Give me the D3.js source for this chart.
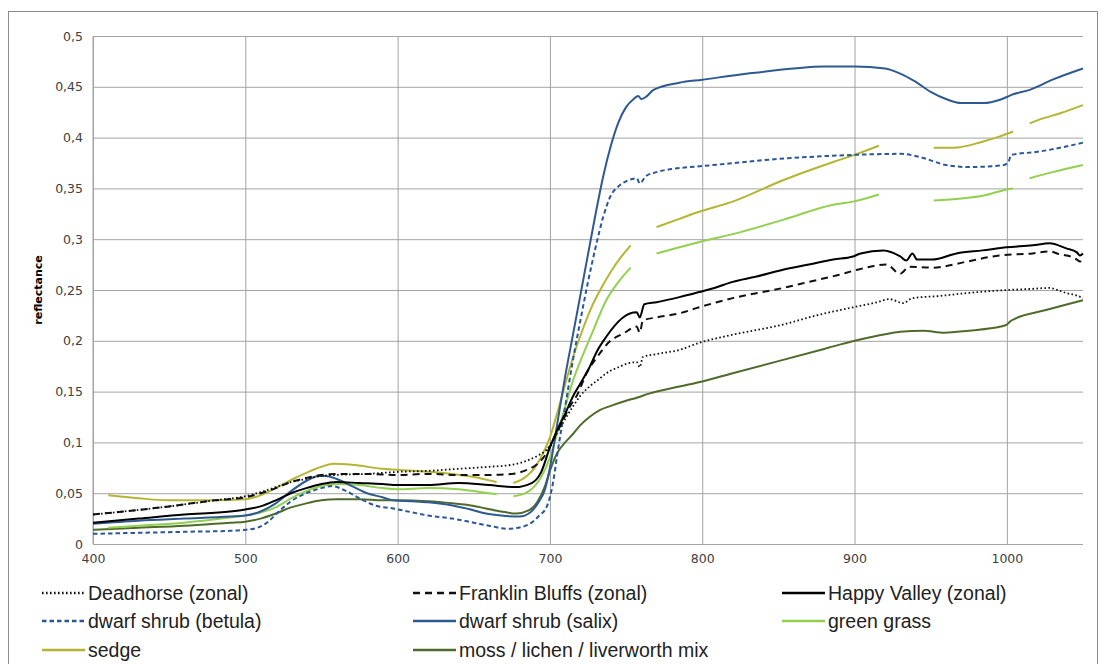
<!DOCTYPE html>
<html>
<head>
<meta charset="utf-8">
<script src="https://cdn.jsdelivr.net/npm/d3@7"></script>
<style>
  body { margin: 0; background: #fff; }
  svg { display: block; }
  .axis text { font-family: "DejaVu Sans", sans-serif; font-size: 12.5px; fill: #404040; }
  .axis .domain { display: none; }
  .axis line { stroke: #a3a3a3; }
  .legend text { font-family: "Liberation Sans", sans-serif; font-size: 19.5px; fill: #222; }
</style>
</head>
<body>
<script>
// series names (legend order)
const seriesNames = ["Deadhorse (zonal)", "Franklin Bluffs (zonal)", "Happy Valley (zonal)",
    "dwarf shrub (betula)", "dwarf shrub (salix)", "green grass",
    "sedge", "moss / lichen / liverworth mix"];

// [wavelength nm, reflectance]; null = gap in the record
const deadhorse = [[400,.029],[420,.032],[450,.037],[480,.043],[500,.047],[510,.051],[520,.056],[530,.061],[540,.064],[550,.067],[560,.068],[580,.069],[600,.071],[620,.072],[640,.074],[660,.076],[675,.078],[685,.082],[692,.087],[698,.093],[703,.105],[708,.118],[715,.135],[720,.146],[726,.155],[732,.162],[737,.168],[745,.174],[752,.178],[757,.179],[759,.174],[761,.184],[770,.187],[785,.191],[798,.198],[820,.206],[853,.216],[875,.225],[899,.233],[915,.238],[923,.241],[932,.237],[938,.242],[955,.244],[974,.247],[1000,.25],[1015,.251],[1028,.252],[1035,.249],[1039,.247],[1045,.245],[1050,.242]];
const franklinBluffs = [[400,.029],[420,.032],[450,.037],[480,.043],[500,.046],[510,.05],[520,.055],[530,.061],[540,.065],[550,.068],[560,.069],[580,.069],[600,.068],[620,.069],[640,.068],[660,.068],[675,.069],[685,.073],[692,.079],[698,.09],[703,.105],[708,.12],[713,.135],[718,.147],[724,.168],[731,.184],[739,.199],[748,.207],[757,.214],[759,.208],[761,.22],[770,.223],[785,.227],[798,.233],[820,.242],[853,.252],[870,.258],[890,.265],[902,.27],[921,.275],[930,.266],[936,.273],[951,.272],[974,.278],[995,.284],[1017,.286],[1028,.288],[1035,.285],[1039,.284],[1045,.281],[1048,.278],[1050,.282]];
const happyValley = [[400,.021],[430,.025],[460,.029],[490,.032],[500,.034],[510,.037],[520,.043],[530,.05],[540,.055],[550,.059],[560,.061],[575,.06],[590,.059],[600,.058],[620,.058],[640,.06],[660,.058],[677,.056],[688,.06],[694,.07],[700,.095],[705,.113],[710,.128],[715,.145],[720,.158],[726,.174],[731,.19],[737,.204],[742,.214],[748,.223],[757,.228],[759,.223],[762,.236],[770,.238],[785,.243],[798,.248],[808,.252],[820,.258],[835,.263],[853,.27],[870,.275],[886,.28],[899,.283],[904,.286],[919,.289],[930,.283],[934,.279],[938,.286],[941,.28],[951,.28],[967,.286],[984,.289],[1000,.292],[1017,.294],[1028,.296],[1039,.291],[1046,.287],[1048,.284],[1050,.286]];
const betula = [[400,.01],[430,.011],[460,.012],[490,.013],[500,.014],[508,.016],[515,.022],[522,.032],[530,.042],[540,.05],[550,.055],[557,.057],[565,.053],[575,.045],[585,.038],[597,.035],[610,.031],[620,.028],[636,.025],[650,.021],[660,.018],[672,.015],[682,.017],[688,.021],[693,.028],[698,.037],[702,.06],[705,.09],[710,.135],[715,.18],[720,.22],[725,.258],[730,.292],[735,.322],[740,.343],[745,.352],[750,.357],[757,.36],[759,.355],[763,.362],[770,.366],[785,.37],[800,.372],[850,.379],[900,.383],[930,.384],[945,.38],[960,.373],[975,.371],[998,.373],[1001,.376],[1003,.383],[1020,.386],[1035,.39],[1050,.395]];
const salix = [[400,.02],[430,.023],[460,.025],[490,.027],[500,.028],[510,.032],[520,.04],[530,.052],[540,.062],[548,.067],[553,.067],[560,.064],[570,.057],[580,.05],[590,.046],[597,.043],[610,.042],[620,.041],[636,.038],[648,.034],[658,.03],[668,.028],[680,.027],[687,.031],[692,.04],[697,.055],[700,.075],[705,.12],[710,.165],[715,.205],[720,.245],[725,.285],[730,.325],[735,.362],[740,.392],[745,.415],[750,.43],[755,.438],[758,.441],[760,.438],[763,.44],[768,.447],[785,.454],[800,.457],[830,.463],[860,.468],[880,.47],[900,.47],[920,.468],[930,.463],[940,.455],[950,.445],[960,.438],[970,.434],[985,.434],[995,.437],[1000,.44],[1003,.442],[1015,.447],[1030,.457],[1050,.468]];
const greenGrass = [[410,.016],[430,.018],[460,.021],[490,.026],[500,.028],[510,.031],[520,.036],[530,.045],[540,.052],[550,.057],[560,.059],[575,.058],[590,.055],[600,.054],[620,.055],[640,.054],[655,.051],[665,.049],[670,null],[676,.047],[684,.05],[690,.057],[695,.068],[700,.085],[705,.11],[710,.135],[715,.16],[720,.18],[727,.205],[737,.24],[745,.258],[753,.272],[760,null],[770,.286],[785,.292],[800,.298],[820,.305],[853,.319],[886,.334],[899,.337],[916,.344],[935,null],[952,.338],[970,.34],[985,.343],[1000,.349],[1004,.35],[1010,null],[1015,.36],[1030,.366],[1050,.373]];
const sedge = [[410,.048],[430,.045],[450,.043],[480,.043],[500,.044],[510,.048],[520,.055],[530,.063],[540,.07],[550,.076],[558,.079],[570,.078],[590,.074],[610,.072],[630,.07],[650,.066],[665,.061],[670,null],[676,.06],[684,.066],[690,.075],[695,.088],[700,.105],[705,.13],[710,.157],[715,.183],[720,.205],[727,.232],[733,.25],[740,.268],[747,.283],[753,.294],[760,null],[770,.312],[785,.32],[798,.327],[820,.337],[853,.358],[886,.376],[900,.383],[916,.392],[935,null],[952,.39],[965,.39],[984,.396],[995,.401],[1004,.406],[1010,null],[1015,.414],[1020,.417],[1035,.424],[1050,.432]];
const moss = [[400,.014],[430,.016],[460,.018],[490,.021],[500,.022],[510,.025],[520,.03],[530,.036],[540,.04],[550,.043],[560,.044],[575,.044],[590,.043],[600,.043],[620,.042],[636,.04],[648,.038],[658,.035],[668,.032],[678,.03],[686,.033],[692,.042],[697,.058],[700,.072],[705,.09],[710,.1],[715,.108],[720,.117],[726,.125],[733,.132],[740,.136],[750,.141],[757,.144],[765,.148],[785,.155],[800,.16],[820,.168],[850,.18],[880,.192],[900,.2],[915,.205],[930,.209],[945,.21],[959,.208],[975,.21],[996,.214],[1000,.216],[1003,.22],[1025,.23],[1050,.24]];

const seriesData = [deadhorse, franklinBluffs, happyValley, betula, salix, greenGrass, sedge, moss];
const seriesColors = ["#111111", "#111111", "#000000", "#2b5797", "#2e5a91", "#92d050", "#b5b534", "#4f6b2a"];
const seriesDash = ["1.6,2.4", "7,5", null, "4.5,3", null, null, null, null];
const seriesWidth = [1.8, 2, 2, 2, 2, 2, 2, 2];

const xTicks = [400, 500, 600, 700, 800, 900, 1000];
const yTicks = [0, 0.05, 0.1, 0.15, 0.2, 0.25, 0.3, 0.35, 0.4, 0.45, 0.5];

const W = 1106, H = 664;
const margin = {left: 93, top: 36, right: 23, bottom: 120};

const svg = d3.select("body").append("svg").attr("width", W).attr("height", H);

// chart frame
svg.append("rect").attr("x", 8.5).attr("y", 11.5).attr("width", 1089).attr("height", 670)
    .attr("fill", "none").attr("stroke", "#8c8c8c");

const x = d3.scaleLinear().domain([400, 1050]).range([margin.left, W - margin.right]);
const y = d3.scaleLinear().domain([0, 0.5]).range([H - margin.bottom, margin.top]);

const comma = d3.formatLocale({decimal: ",", thousands: ".", grouping: [3], currency: ["", ""]}).format("~g");

// gridlines + tick labels
svg.append("g").attr("class", "axis")
    .attr("transform", `translate(${margin.left},0)`)
    .call(d3.axisLeft(y).tickValues(yTicks).tickFormat(comma)
        .tickSize(-(W - margin.right - margin.left)).tickPadding(10));

svg.append("g").attr("class", "axis")
    .attr("transform", `translate(0,${H - margin.bottom})`)
    .call(d3.axisBottom(x).tickValues(xTicks).tickFormat(d3.format("d"))
        .tickSize(-(H - margin.bottom - margin.top)).tickPadding(10));

// left axis line
svg.append("line").attr("x1", margin.left).attr("x2", margin.left)
    .attr("y1", margin.top).attr("y2", H - margin.bottom).attr("stroke", "#a3a3a3");

svg.append("text")
    .attr("transform", `translate(42,290) rotate(-90)`)
    .attr("text-anchor", "middle")
    .style("font-family", "'DejaVu Sans', sans-serif")
    .style("font-size", "11px").style("font-weight", "bold")
    .text("reflectance");

const line = d3.line()
    .defined(d => d[1] !== null)
    .x(d => x(d[0])).y(d => y(d[1]))
    .curve(d3.curveMonotoneX);

// draw moss first, salix/betula on top roughly like the original
const drawOrder = [7, 5, 6, 4, 3, 0, 1, 2];
svg.append("g").selectAll("path").data(drawOrder).join("path")
    .attr("d", i => line(seriesData[i]))
    .attr("fill", "none")
    .attr("stroke", i => seriesColors[i])
    .attr("stroke-width", i => seriesWidth[i])
    .attr("stroke-dasharray", i => seriesDash[i])
    .attr("stroke-linejoin", "round");

// legend, 3 columns
const legCols = [42, 413, 782];
const legRows = [593, 621, 650];
const legend = svg.append("g").attr("class", "legend");
const item = legend.selectAll("g").data(seriesNames).join("g")
    .attr("transform", (d, i) => `translate(${legCols[i % 3]},${legRows[Math.floor(i / 3)]})`);
item.append("line").attr("x1", 0).attr("x2", 43).attr("y1", 0).attr("y2", 0)
    .attr("stroke", (d, i) => seriesColors[i])
    .attr("stroke-width", (d, i) => seriesWidth[i] + 0.5)
    .attr("stroke-dasharray", (d, i) => seriesDash[i]);
item.append("text").attr("x", 46).attr("y", 7).text(d => d);
</script>
</body>
</html>
